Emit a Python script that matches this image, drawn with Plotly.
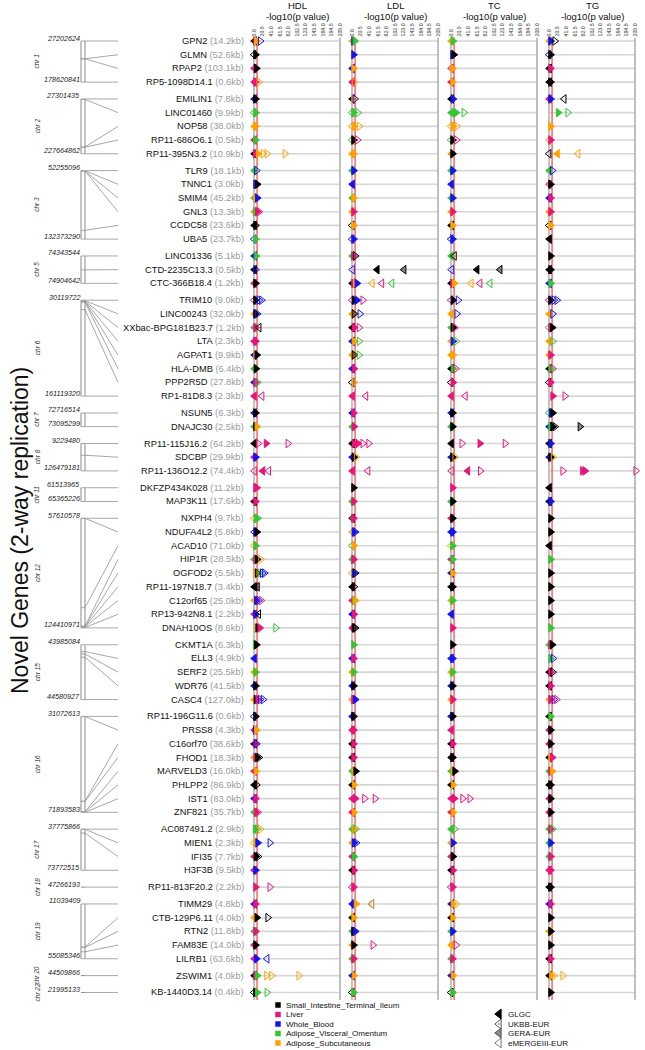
import plotly.graph_objects as go

W, H = 645, 1050

genes = ["GPN2", "GLMN", "RPAP2", "RP5-1098D14.1",
         "EMILIN1", "LINC01460", "NOP58", "RP11-686O6.1", "RP11-395N3.2",
         "TLR9", "TNNC1", "SMIM4", "GNL3", "CCDC58", "UBA5",
         "LINC01336", "CTD-2235C13.3", "CTC-366B18.4",
         "TRIM10", "LINC00243", "XXbac-BPG181B23.7", "LTA", "AGPAT1", "HLA-DMB", "PPP2R5D", "RP1-81D8.3",
         "NSUN5", "DNAJC30",
         "RP11-115J16.2", "SDCBP", "RP11-136O12.2",
         "DKFZP434K028", "MAP3K11",
         "NXPH4", "NDUFA4L2", "ACAD10", "HIP1R", "OGFOD2", "RP11-197N18.7", "C12orf65", "RP13-942N8.1", "DNAH10OS",
         "CKMT1A", "ELL3", "SERF2", "WDR76", "CASC4",
         "RP11-196G11.6", "PRSS8", "C16orf70", "FHOD1", "MARVELD3", "PHLPP2", "IST1", "ZNF821",
         "AC087491.2", "MIEN1", "IFI35", "H3F3B",
         "RP11-813F20.2",
         "TIMM29", "CTB-129P6.11", "RTN2", "FAM83E", "LILRB1",
         "ZSWIM1",
         "KB-1440D3.14"]

gene_kb = [14.2, 52.6, 103.1, 0.6,
           7.8, 9.9, 38.0, 0.5, 10.9,
           18.1, 3.0, 45.2, 13.3, 23.6, 23.7,
           5.1, 0.5, 1.2,
           9.0, 32.0, 1.2, 2.3, 9.9, 6.4, 27.8, 2.3,
           6.3, 2.5,
           64.2, 29.9, 74.4,
           11.2, 17.6,
           9.7, 5.8, 71.0, 28.5, 5.5, 3.4, 25.0, 2.2, 8.6,
           6.3, 4.9, 25.5, 41.5, 127.0,
           0.6, 4.3, 38.6, 18.3, 16.0, 86.9, 83.0, 35.7,
           2.9, 2.3, 7.7, 9.5,
           2.2,
           4.8, 4.0, 11.8, 14.0, 63.6,
           4.0,
           0.4]

gene_chr = ["1"] * 4 + ["2"] * 5 + ["3"] * 6 + ["5"] * 3 + ["6"] * 8 + ["7"] * 2 + ["8"] * 3 + \
           ["11"] * 2 + ["12"] * 9 + ["15"] * 5 + ["16"] * 8 + ["17"] * 4 + ["18"] + ["19"] * 5 + \
           ["20"] + ["22"]

gene_pos = [27202624, 92712000, 92765000, 178620841,
            27301435, 29000000, 203130000, 203500000, 227664862,
            52255096, 52485000, 52742000, 52720000, 122080000, 132373290,
            74343544, 74630000, 74904642,
            30119722, 30750000, 31300000, 31540000, 32140000, 32900000, 42950000, 161119320,
            72716514, 73095299,
            9229480, 59460000, 126479181,
            61513965, 65365226,
            57610578, 57630000, 112120000, 123320000, 123460000, 123700000, 123720000, 124200000, 124410971,
            43985084, 44060000, 44085000, 44120000, 44580927,
            31072613, 31140000, 67140000, 67260000, 71660000, 71680000, 71890000, 71893583,
            37775866, 37885000, 41160000, 73772515,
            47266193,
            11039409, 45700000, 45990000, 49500000, 55085346,
            44509866,
            21995133]

# marker codes: tissue, study, direction, -log10(p)
# tissue k/l/w/v/a, study G=GLGC U=UKBB R=GERA E=eMERGE
hdl_marks = [
    "kG<1 lG>4 aG>6 wE>15", "kE<0 kG>4", "lG<1 lR>4 kG>6", "lG<1 lG>4 aE>12",
    "wG<1 kG>4", "vE<0 vG>4", "aG<1 aR>4", "lG<1 vG>4", "kG<1 lG>3 aG>10 aE>22 aE>31 aE>74",
    "vG<1 wU>6", "wG>4 kG>8", "vG<1 aG>3 wG>8", "aG<1 vG>3 lG>8 lE>12", "kG<1 kR>4", "wE<0 vG>4",
    "wG<1 vG>5", "kG<1 wU>4", "lG<1 kG>4",
    "lE<0 kG>4 wE>12 wE>18", "aG<1 kG>4 wU>8", "vG<1 lG>4 kE<12", "lG<1 lG>4", "wG<1 aG>4 kG>7",
    "vG<1 kG>5", "wG<1 lG>4 vE>9", "lG<1 lE<19",
    "wG<1 kG>4", "vG<1 kG>4 aG>7",
    "kG<1 lE>10 lG>29 lE>81", "lG<1 wG>4", "lE<1 lG<21 lE<35",
    "lG>4 lR>7", "kG<1 lG>4",
    "aE<0 vG>5 vR>9", "wE<1 wG>4 kG>7", "aE<0 vG>4", "vG<1 lG>4 kG>8 aE>16", "aG>3 kR>8 vE>14 wE>20 wE>25",
    "kG<1 kR<8", "aG<1 wG>6 wE>11 lE>17", "lG<1 wG>4 kU<11", "aE>5 kG>9 lG>14 vE>52",
    "vG>3 kG>6", "wG<1", "aG<1 vG>4", "wG<1 kG>4", "aG<1 kG>5 lG>9 wE>15 wE>22",
    "wE<0 kG>4", "lG<1 wG>3 aG>6", "kG<1 lG>4 wU>6", "aG<1 lG>4 kG>8 kU>12", "lG<1 aG>5",
    "kG<1 kU>6", "wG<1 lG>4", "vG<1 lG>5 lE>9",
    "vG>3 vE>8 aE>15", "aE<0 aG>4 wG>9 wE>38", "lG<1 kG>5 kU>10", "lG<1 wG>4",
    "lG>4 lE>38",
    "wG<1 lG>4", "aG<1 kG>7 kE>33", "vG<1 lG>4", "lG<1 kG>4", "lG<1 wG>6 wE<31",
    "kG<1 lG>4 vG>8 aE>30 aE>42 aE>107",
    "kE<0 kG>4 vG>8 vE>31"]

ldl_marks = [
    "aG<1 wG>4 vG>7", "wG>4", "wG<1 aG>4", "lG<1 aE>5",
    "kG<1 aG>4 wU>7", "vE<0 vG>4 vE>14", "aE<0 aG>5 aE>17", "vE<0 kG>4 lE>13", "aG<1 aR>4",
    "vG<1 wG>4", "wG<1", "vG<1 aG>4", "aG<1 lG>4", "kE<0 aG>4", "wE<0 wG>4",
    "vG<1 lG>4 kE>8", "wE<1 kG<60 kR<124", "kG<1 lG>4 aG>8 wG>12 aE<48 lE<71 vE<95",
    "lE<0 kG>5 wG>12 lE>26", "aG<1 kR>5 wE>19", "kG<1 lG>5 lE>17", "wG<1 aG>5 vE>17", "aG<1 kR>5 vE>17",
    "wG<1 lG>5", "kE<0 aR>5", "lG<1 lE<33",
    "wG<1 lG>4", "vG<1 lG>5",
    "kG<1 lG>5 lG>14 lE>26 lE>40", "wG<1 kG>5 aE>10", "lG<1 lE<38",
    "kG>4", "vG<1 lG>4",
    "kR<1 lG>4", "aR<1 wG>5 wE>8", "vE<0 aG>5", "vG<1 lG>4", "aE<0 wG>5 kE>8",
    "kG<1 kE>5", "lG<1 vG>5 aG>8", "wG<1 lG>5", "lG<1 kR>5 kU>8",
    "vG>4", "wG<1 lG>4", "aG<1 vG>4", "wG<1 kG>4", "aG<1 lG>4 wG>8",
    "wG<1 kG>4", "lG<1 lG>4", "kG<1 lG>4", "kG<1 lG>4", "vG<1 aG>5 kG>9",
    "kG<1 aG>5", "lG<1 lG>8 lE>30 lE>55", "lG<1 aG>5",
    "vG<1 aG>5 vE>9", "aG<1 wG>5 wE>10", "lG<1 vG>5", "kG<1 lG>5",
    "lE<0 lG>4",
    "wG<1 wG>5 aG>10 wE<47 aE<47", "kG<1 aG>4", "vG<1 kG>4 wG>8", "aG<1 kG>4 lE>50", "vG<1 lG>4",
    "wG<1 aG>5",
    "kE<0 vG>4"]

tc_marks = [
    "aG<1 vG>5", "wG>4 kG>7", "lR<1 aG>4", "lG<1 aG>4",
    "kG<1 wG>5", "vG<1 vG>12 vE>31", "aE<0 aG>5 aE>14", "vE<0 kG>4 lE>13", "aG<1 kG>4",
    "vG<1 wG>4", "wG<1", "vG<1 wG>4", "aG<1 lG>4", "kG<1 aG>4", "wE<0 wG>4",
    "vG<1 kE<8", "wE<1 kG<62 kR<117", "kG<1 lG>4 aG>8 aE<48 lE<69 vE<93",
    "lE<0 kG>5 wE>17", "aG<1 wE>14", "vG<1 kG>5 lE>9", "aG<1 wG>5 vE>12", "aG<1 aR>5",
    "kG<1 vG>5 lE>11", "kE<0 lG>5", "lG<1 lE<34",
    "wG<1 kG>4", "vG<1 kG>4",
    "kG<1 lE>26 lG>69 lE>129", "wG<1 kG>4 aE>9", "lE<1 lG<40 lE>70",
    "lG>4", "vG<1 kG>4",
    "lG<1 kG>4", "wG<1 wG>4", "aE<0 vG>4", "lG<1 vG>4", "wG<1 aG>4",
    "kG<1 kG>4", "aG<1 vG>4", "wG<1", "lG>4",
    "kG>4", "wG<1 wG>4", "aG<1 vG>4", "wG<1 kG>4", "aG<1 lG>4",
    "wG<1 kG>4", "lG<1", "kG<1 lG>4", "kG<1 kG>4", "vG<1 aG>5 kG>9",
    "kG<1 aG>5", "lG<1 lG>8 lE>28 lE>45", "lG<1 aG>5",
    "vG<1 vE>9", "aG<1 wG>5", "lG<1 kG>5", "kG<1 lG>5",
    "lE<0 lG>4",
    "wG<1 aG>5 aE>12", "kG<1 aG>4", "vG<1 wG>4", "aG<1 lE>12", "vG<1 lG>4",
    "wG<1 aG>5",
    "kE<0 vG>4"]

tg_marks = [
    "aG<1 wG>4 kE>14", "wE<0 kG>4", "kG<1 lG>4", "kG<1 kG>4",
    "lG<1 wG>4 kE<36", "vG>22 vE>45", "aG>4", "aE<0 lG>4", "kE<0 aG<20 aE<69",
    "vG<1 wE>8", "lR<1 kG>4", "wG<1 lG>4", "aG<1 lG>4", "kE<0 aG>4", "kG<1",
    "kG>4", "kG<1 kG>4", "wG<1 vG>4",
    "lE<0 kG>4 wE>12 wE>19", "aG<1 wE>9", "vE<0 lG>4 kG>8", "aG<1 vE>9", "aG<1 lG>4",
    "kG<1 vG>4 lE>9", "kE<0 lG>4", "lG>9 lE>38",
    "vE<0 wG>5 kG>9", "wG<1 vG>4 kG>9 kU>14 kR>74",
    "kG<1 wG>4", "wG<1 kG>4 aE>10", "lE>33 lG>80 lG>86 lE>207",
    "kG<1", "kG<1 wG>4",
    "kG>4", "kG>4", "kG<1", "vG>4", "kG>4",
    "kG>4", "kG>4", "kG>4", "vG>4",
    "vG<1 lG>4 kG>8", "vG>4 wE>10", "kG<1 lG>4 kE>9", "kG<1 lG>4", "aG<1 lG>4 wE>12 lE>18",
    "kG<1 vG>4", "lG<1 kG>4", "lG<1 kG>4", "kG<1 aG>4 lG>8", "vG<1 lG>4 aG>8",
    "kG<1 kG>4", "lG<1 kG>4", "lG<1 kG>4",
    "vG<1 lG>4 vE>9", "vG<1 wG>4", "vG<1 lG>4", "lG<1 lG>4",
    "kG<1 kG>4",
    "wG<1 lG>4", "kG>4", "aG<1 kG>4", "kG>4", "kG<1 lG>4",
    "kG<1 aG>6 aE>12 aE>33",
    "kG>4"]

traits = ["HDL", "LDL", "TC", "TG"]
trait_marks = [hdl_marks, ldl_marks, tc_marks, tg_marks]
x_ticks = [0, 20.5, 41, 61.5, 82, 102.5, 123, 143.5, 164, 184.5, 205]
threshold = 7.3

tissues = ["Small_Intestine_Terminal_Ileum", "Liver", "Whole_Blood", "Adipose_Visceral_Omentum", "Adipose_Subcutaneous"]
tissue_codes = ["k", "l", "w", "v", "a"]
tissue_colors = ["#000000", "#e8157c", "#1414f0", "#33c633", "#ffa200"]
studies = ["GLGC", "UKBB-EUR", "GERA-EUR", "eMERGEIII-EUR"]

FONT = "Arial, Liberation Sans"
col_of = dict(zip(tissue_codes, tissue_colors))


def rgba(hexc, a):
    h = hexc.lstrip("#")
    return "rgba(%d,%d,%d,%s)" % (int(h[0:2], 16), int(h[2:4], 16), int(h[4:6], 16), a)


def px(x):
    return x / W


def py(y):
    return 1 - y / H


# row positions with a small gap between chromosomes
ROW_PX, TOP_PX, GAP = 13.7, 41, 0.23
ypos, grp, prev = [], -1, None
for i, c in enumerate(gene_chr):
    if c != prev:
        grp += 1
        prev = c
    ypos.append(i + GAP * grp)
y_lo, y_hi = -0.25, ypos[-1] + 0.55


def ypix(v):
    return TOP_PX + ROW_PX * v


fig = go.Figure()
zero_px = [254, 352, 451, 549]
PXU = 86 / 205
X_LO, X_HI = -12, 212
layout = {}

for k, (trait, marks) in enumerate(zip(traits, trait_marks)):
    xa = "x" if k == 0 else "x%d" % (k + 1)
    key = "xaxis" if k == 0 else "xaxis%d" % (k + 1)
    z = zero_px[k]
    layout[key] = dict(domain=[px(z + X_LO * PXU), px(z + X_HI * PXU)], range=[X_LO, X_HI],
                       anchor="y", side="top", tickvals=x_ticks, ticktext=["%.1f" % t for t in x_ticks],
                       tickangle=-90, tickfont=dict(size=5.3, color="#333", family=FONT),
                       showgrid=False, zeroline=False, showline=False, ticks="", ticklen=0)

    # row guide lines
    lx, ly = [], []
    for y in ypos:
        lx += [0, 205, None]
        ly += [y, y, None]
    fig.add_trace(go.Scatter(x=lx, y=ly, xaxis=xa, yaxis="y", mode="lines",
                             line=dict(color="#d6d6d6", width=1.6), hoverinfo="skip", showlegend=False))
    # vertical lines: zero, end, threshold
    for xv, colr, wd in [(0, "#b5b5b5", 1.6), (205, "#b0b0b0", 1.6), (threshold, "#ff4a4a", 1.3)]:
        fig.add_trace(go.Scatter(x=[xv, xv], y=[y_lo, y_hi], xaxis=xa, yaxis="y", mode="lines",
                                 line=dict(color=colr, width=wd), hoverinfo="skip", showlegend=False))

    xs, ys, syms, fills, lines = [], [], [], [], []
    for gi, s in enumerate(marks):
        for tok in s.split():
            t, st, d, v = tok[0], tok[1], tok[2], float(tok[3:])
            base = "triangle-left" if d == "<" else "triangle-right"
            c = col_of[t]
            if st == "G":
                sym, fc = base, c
            elif st == "R":
                sym, fc = base, rgba(c, 0.45)
            elif st == "U":
                sym, fc = base + "-open-dot", c
            else:
                sym, fc = base + "-open", c
            xs.append(v)
            ys.append(ypos[gi])
            syms.append(sym)
            fills.append(fc)
            lines.append(c)
    fig.add_trace(go.Scatter(x=xs, y=ys, xaxis=xa, yaxis="y", mode="markers", cliponaxis=False,
                             marker=dict(symbol=syms, size=7.5, color=fills, line=dict(color=lines, width=1)),
                             showlegend=False, hoverinfo="x"))

    fig.add_annotation(x=px(z + 43), y=py(6), xref="paper", yref="paper", text=trait, showarrow=False,
                       xanchor="center", yanchor="middle", font=dict(size=9.5, family=FONT, color="#111"))
    fig.add_annotation(x=px(z + 43), y=py(16), xref="paper", yref="paper", text="-log10(p value)",
                       xanchor="center", yanchor="middle",
                       showarrow=False, font=dict(size=9.5, family=FONT, color="#111"))

# chromosome connector panel (pixel x on its own axis, shared gene y axis)
BAR_L, BAR_R, LINE_END = 81, 85, 118
cx, cy, bx, by = [], [], [], []
chroms = []
for c in gene_chr:
    if c not in chroms:
        chroms.append(c)
for c in chroms:
    idx = [i for i, g in enumerate(gene_chr) if g == c]
    y0, y1 = ypos[idx[0]], ypos[idx[-1]]
    p0, p1 = gene_pos[idx[0]], gene_pos[idx[-1]]
    if len(idx) > 1:
        for xb in (BAR_L, BAR_R):
            bx += [xb, xb, None]
            by += [y0, y1, None]
        for i in idx:
            ym = y0 + (gene_pos[i] - p0) / (p1 - p0) * (y1 - y0)
            cx += [BAR_L, BAR_R, LINE_END, None]
            cy += [ym, ym, ypos[i], None]
        labels = [(p0, y0), (p1, y1)]
    else:
        bx += [BAR_L, BAR_R, None]
        by += [y0, y0, None]
        cx += [BAR_R, LINE_END, None]
        cy += [y0, y0, None]
        labels = [(p0, y0)]
    for val, yv in labels:
        fig.add_annotation(x=px(81.5), y=yv, xref="paper", yref="y", text="<i>%d</i>" % val, showarrow=False,
                           xanchor="right", yanchor="middle", yshift=3,
                           font=dict(size=7.2, family=FONT, color="#222"))
    fig.add_annotation(x=px(37), y=(y0 + y1) / 2, xref="paper", yref="y", text="<i>chr %s</i>" % c,
                       xanchor="center", yanchor="middle",
                       showarrow=False, textangle=-90, font=dict(size=6.5, family=FONT, color="#333"))

fig.add_trace(go.Scatter(x=cx, y=cy, xaxis="x6", yaxis="y", mode="lines",
                         line=dict(color="#a8a8a8", width=1), hoverinfo="skip", showlegend=False))
fig.add_trace(go.Scatter(x=bx, y=by, xaxis="x6", yaxis="y", mode="lines",
                         line=dict(color="#8a8a8a", width=1), hoverinfo="skip", showlegend=False))
layout["xaxis6"] = dict(domain=[0, 1], range=[0, W], anchor="y", visible=False)

# gene labels
for g, kb, y in zip(genes, gene_kb, ypos):
    fig.add_annotation(x=px(246), y=y, xref="paper", yref="y",
                       text="%s <span style='color:#9a9a9a'>(%.1fkb)</span>" % (g, kb),
                       showarrow=False, xanchor="right", yanchor="middle",
                       font=dict(size=9.3, family=FONT, color="#111"))

fig.add_annotation(x=px(20), y=py(531), xref="paper", yref="paper", text="Novel Genes (2-way replication)",
                   xanchor="center", yanchor="middle",
                   showarrow=False, textangle=-90, font=dict(size=23, family=FONT, color="#111"))

# legends (drawn on a pixel overlay axis)
leg_y1 = [1005, 1014.5, 1024, 1033.5, 1043]
fig.add_trace(go.Scatter(x=[278] * 5, y=leg_y1, xaxis="x5", yaxis="y2", mode="markers",
                         marker=dict(symbol="square", size=5.5, color=tissue_colors),
                         hoverinfo="skip", showlegend=False))
for name, yy in zip(tissues, leg_y1):
    fig.add_annotation(x=px(284), y=py(yy), xref="paper", yref="paper", text=name, showarrow=False,
                       xanchor="left", yanchor="middle", font=dict(size=8, family=FONT, color="#111"))
leg_y2 = [1014, 1024, 1033, 1043]
fig.add_trace(go.Scatter(x=[499] * 4, y=leg_y2, xaxis="x5", yaxis="y2", mode="markers",
                         marker=dict(symbol=["triangle-left", "triangle-left-open-dot", "triangle-left",
                                             "triangle-left-open"], size=8.5,
                                     color=["#000", "#555", "#8c8c8c", "#777"],
                                     line=dict(color=["#000", "#555", "#555", "#777"], width=1)),
                         hoverinfo="skip", showlegend=False))
for name, yy in zip(studies, leg_y2):
    fig.add_annotation(x=px(506), y=py(yy), xref="paper", yref="paper", text=name, showarrow=False,
                       xanchor="left", yanchor="middle", font=dict(size=8, family=FONT, color="#111"))
layout["xaxis5"] = dict(domain=[0, 1], range=[0, W], anchor="y2", visible=False)
layout["yaxis2"] = dict(domain=[0, 1], range=[H, 0], anchor="x5", visible=False)

layout["yaxis"] = dict(domain=[py(ypix(y_hi)), py(ypix(y_lo))], range=[y_hi, y_lo], anchor="x",
                       showticklabels=False, showgrid=False, zeroline=False, showline=False, ticks="")

fig.update_layout(width=W, height=H, margin=dict(l=0, r=0, t=0, b=0),
                  paper_bgcolor="white", plot_bgcolor="rgba(0,0,0,0)", showlegend=False,
                  font=dict(family=FONT), **layout)

# drop the default page margin so the figure sits at the window's corner
fig.write_html("out.html", config={"displayModeBar": False},
               post_script="document.body.style.margin='0px';")
